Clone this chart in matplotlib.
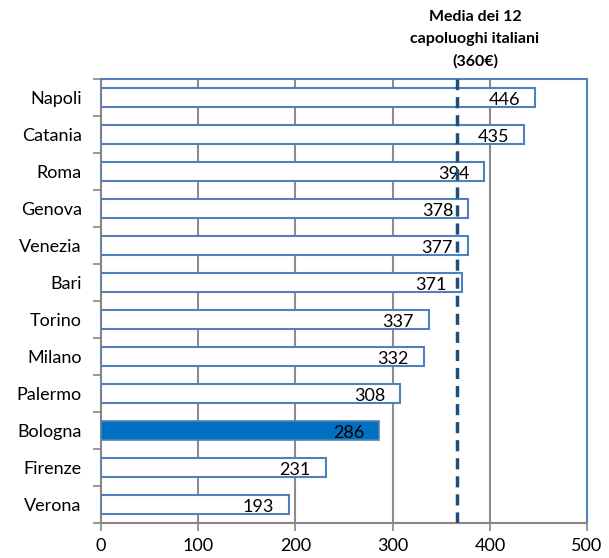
import matplotlib
matplotlib.use("Agg")
import matplotlib.pyplot as plt

cities = ["Napoli", "Catania", "Roma", "Genova", "Venezia", "Bari", "Torino",
          "Milano", "Palermo", "Bologna", "Firenze", "Verona"]
values = [446, 435, 394, 378, 377, 371, 337, 332, 308, 286, 231, 193]
highlight = "Bologna"
mean_value = 360
mean_label = "Media dei 12\ncapoluoghi italiani\n(360€)"
xticks = [0, 100, 200, 300, 400, 500]

plt.rcParams['font.family'] = ['Lato', 'DejaVu Sans']

fig = plt.figure(figsize=(6.09, 5.58), dpi=100)
ax = fig.add_axes([0.166, 0.0627, 0.798, 0.7953])

n = len(cities)
ypos = list(range(n))[::-1]
edge = "#4F81BD"
for y, c, v in zip(ypos, cities, values):
    if c == highlight:
        ax.barh(y, v, height=0.5, color="#0070C0", edgecolor="#4F81BD", linewidth=1.2, zorder=3)
    else:
        ax.barh(y, v, height=0.5, color="white", edgecolor=edge, linewidth=1.5, zorder=3)
    ax.annotate(str(v), xy=(v, y), xytext=(-22, -1.5), textcoords="offset points",
                ha="center", va="center", fontsize=13, color="black", zorder=4)

ax.set_xlim(0, 500)
ax.set_ylim(-0.5, n - 0.5)
ax.set_xticks(xticks)
ax.set_xticklabels([str(t) for t in xticks], fontsize=13)
ax.set_yticks(ypos)
ax.set_yticklabels(cities, fontsize=13)
ax.set_yticks([i - 0.5 for i in range(n + 1)], minor=True)
ax.tick_params(axis="y", which="major", length=0, pad=14)
ax.tick_params(axis="y", which="minor", length=6, color="#868686", width=1.2)
ax.tick_params(axis="x", length=6, color="#868686", width=1.2, pad=5)

for t in xticks[1:-1]:
    ax.axvline(t, color="#8C8C8C", linewidth=1.5, zorder=1)

for s in ["left", "bottom"]:
    ax.spines[s].set_color("#868686")
    ax.spines[s].set_linewidth(1.5)
for s in ["top", "right"]:
    ax.spines[s].set_color("#4F81BD")
    ax.spines[s].set_linewidth(1.5)

ax.axvline(mean_value + 6, color="#1F4E79", linewidth=2.5, linestyle=(0, (3.2, 2)), zorder=5)

fig.text(475 / 609, 1 - 10 / 558, mean_label, ha="center", va="top",
         fontsize=11.5, fontweight="bold", linespacing=1.7)

fig.savefig("out.png", dpi=100)
